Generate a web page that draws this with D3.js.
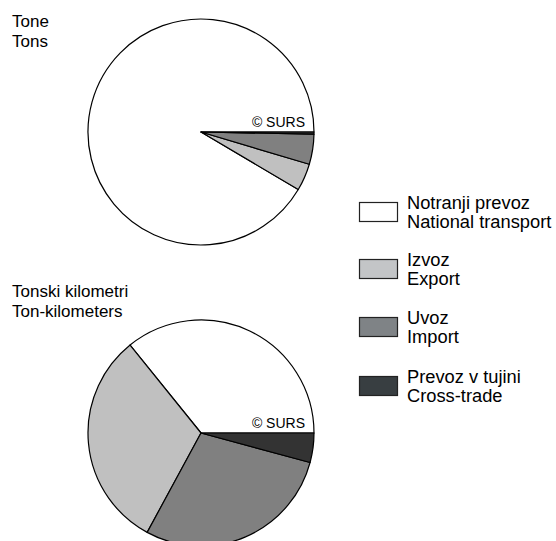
<!DOCTYPE html>
<html><head><meta charset="utf-8">
<script src="https://cdn.jsdelivr.net/npm/d3@7"></script>
<style>html,body{margin:0;padding:0;background:#fff;}svg{display:block;font-family:Arial,"Liberation Sans",Helvetica,sans-serif;}</style>
</head><body>
<script>
const categories = ["Notranji prevoz|National transport","Izvoz|Export","Uvoz|Import","Prevoz v tujini|Cross-trade"];
const tonsValues = [91.5, 3.9, 4.3, 0.3];
const tonKmValues = [35.8, 31.3, 28.7, 4.2];
const pieTitles = [["Tone","Tons"],["Tonski kilometri","Ton-kilometers"]];
const sliceColors = ["#ffffff","#c0c0c0","#808080","#333333"];
const legendColors = ["#ffffff","#c3c5c7","#7f8386","#383e41"];
const credit = "© SURS";

const W = 556, H = 541;
const svg = d3.select("body").append("svg").attr("width", W).attr("height", H);

const color = d3.scaleOrdinal().domain(categories).range(sliceColors);
const lcolor = d3.scaleOrdinal().domain(categories).range(legendColors);
const pie = d3.pie().sort(null).value(d => d.v).startAngle(Math.PI/2).endAngle(Math.PI/2 - 2*Math.PI);
const R = 113;
const arc = d3.arc().innerRadius(0).outerRadius(R);

const pies = [
  {vals: tonsValues, cx: 201, cy: 132, ty: 27},
  {vals: tonKmValues, cx: 201, cy: 433, ty: 297}
];
pies.forEach((p, i) => {
  const data = categories.map((c, j) => ({c, v: p.vals[j]}));
  const g = svg.append("g").attr("transform", `translate(${p.cx},${p.cy})`);
  g.selectAll("path").data(pie(data)).join("path")
    .attr("d", arc).attr("fill", d => color(d.data.c))
    .attr("stroke", "#000").attr("stroke-width", 1.2).attr("stroke-linejoin", "round");
  g.append("text").attr("x", 104).attr("y", -5.5).attr("text-anchor", "end")
    .attr("font-size", 14).attr("fill", "#000").text(credit);
  const t = svg.append("text").attr("x", 12).attr("font-size", 17).attr("fill", "#000");
  pieTitles[i].forEach((s, k) => t.append("tspan").attr("x", 12).attr("y", p.ty + k*20).text(s));
});

const legendY = [202, 259, 317, 376];
const lg = svg.append("g");
categories.forEach((c, i) => {
  const y = legendY[i];
  lg.append("rect").attr("x", 359.5).attr("y", y + 0.5).attr("width", 38).attr("height", 19)
    .attr("fill", lcolor(c)).attr("stroke", "#222").attr("stroke-width", 1.2);
  const parts = c.split("|");
  const t = lg.append("text").attr("font-size", 18.3).attr("fill", "#000");
  parts.forEach((s, k) => t.append("tspan").attr("x", 407).attr("y", y + 6.5 + k*19).text(s));
});
</script>
</body></html>
